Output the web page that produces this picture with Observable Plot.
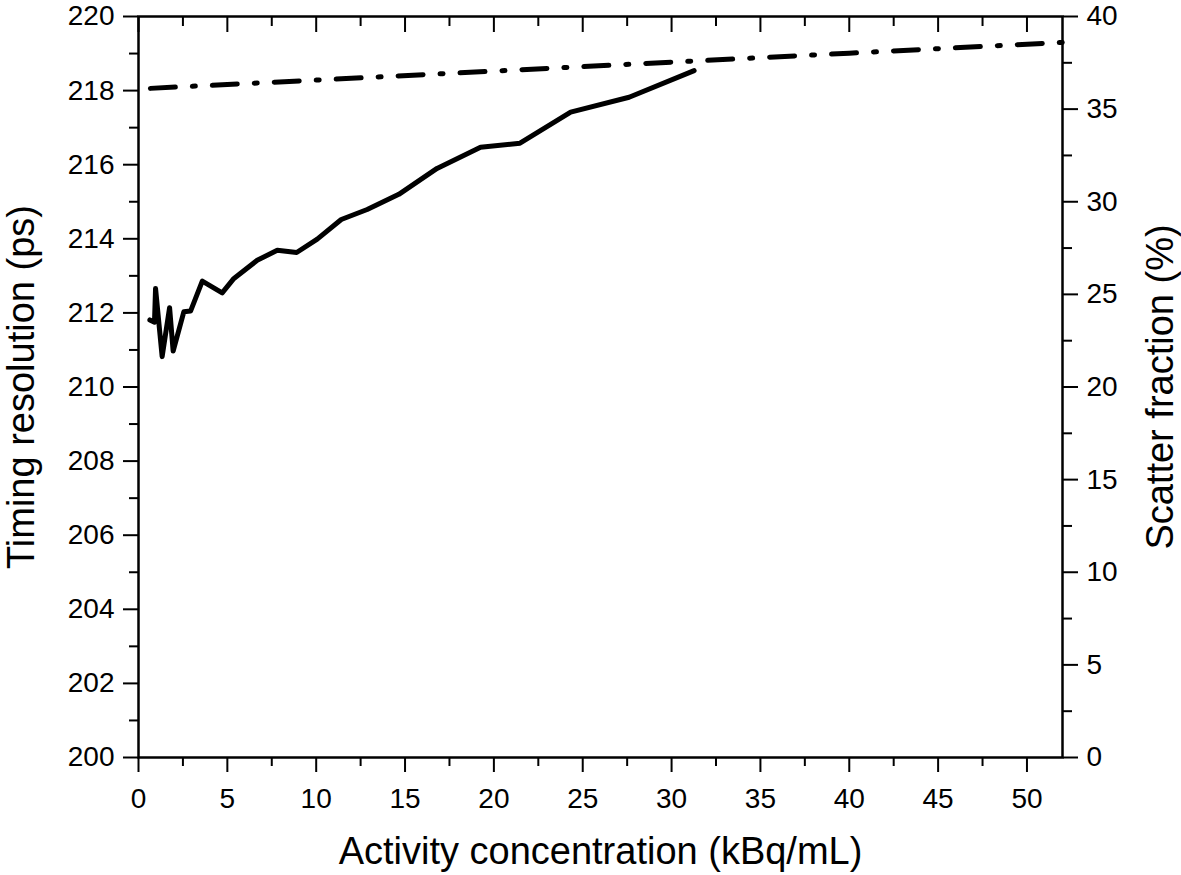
<!DOCTYPE html>
<html>
<head>
<meta charset="utf-8">
<script src="https://cdn.jsdelivr.net/npm/d3@7"></script>
<script src="https://cdn.jsdelivr.net/npm/@observablehq/plot@0.6"></script>
<style>
  html, body { margin: 0; padding: 0; background: #fff; }
  #chart svg { display: block; }
</style>
</head>
<body>
<div id="chart"></div>
<script>
// Timing resolution (ps) vs activity concentration (kBq/mL)
const timingX = [0.64, 0.9, 0.96, 1.33, 1.75, 1.95, 2.55, 2.93, 3.59, 4.71, 5.37, 6.68, 7.81, 8.9, 10.06, 11.41, 12.87, 14.65, 16.8, 19.25, 21.47, 24.32, 27.61, 31.27];
const timingPs = [211.81, 211.75, 212.66, 210.82, 212.14, 210.97, 212.03, 212.05, 212.86, 212.54, 212.93, 213.42, 213.69, 213.63, 213.99, 214.52, 214.79, 215.2, 215.9, 216.47, 216.58, 217.42, 217.82, 218.54];

// Scatter fraction (%) vs activity concentration
const scatterX = [0.67, 10, 20, 31.3, 40, 52];
const scatterPct = [36.12, 36.57, 37.05, 37.6, 38.02, 38.6];

// Ticks
const xMajor = [0, 5, 10, 15, 20, 25, 30, 35, 40, 45, 50];
const xMinor = [2.5, 7.5, 12.5, 17.5, 22.5, 27.5, 32.5, 37.5, 42.5, 47.5];
const yMajor = [200, 202, 204, 206, 208, 210, 212, 214, 216, 218, 220];
const yMinor = [201, 203, 205, 207, 209, 211, 213, 215, 217, 219];
const pctMajor = [0, 5, 10, 15, 20, 25, 30, 35, 40];
const pctMinor = [2.5, 7.5, 12.5, 17.5, 22.5, 27.5, 32.5, 37.5];

// map percent (0–40) onto the ps axis (200–220)
const pctToPs = p => 200 + p / 2;
const psToPct = v => Math.round((v - 200) * 2);
const blank = () => "";

const timing = timingX.map((x, i) => ({x, y: timingPs[i]}));
const scatter = scatterX.map((x, i) => ({x, y: pctToPs(scatterPct[i])}));

const font = "Arial, 'Liberation Sans', Helvetica, sans-serif";
const tickFont = 28;
const titleFont = 38;

const chart = Plot.plot({
  width: 1181,
  height: 875,
  marginLeft: 138,
  marginRight: 119,
  marginTop: 16,
  marginBottom: 118,
  style: {fontFamily: font, color: "#000", background: "#fff"},
  x: {domain: [0, 52]},
  y: {domain: [200, 220]},
  marks: [
    // bottom axis
    Plot.axisX({anchor: "bottom", ticks: xMajor, tickSize: 15, tickPadding: 16, tickFormat: d => d, label: null, strokeWidth: 2, fontSize: tickFont}),
    Plot.axisX({anchor: "bottom", ticks: xMinor, tickSize: 9, tickFormat: blank, label: null, strokeWidth: 2}),
    Plot.axisX({anchor: "bottom", ticks: [], label: "Activity concentration (kBq/mL)", labelAnchor: "center", labelArrow: "none", labelOffset: 106, fontSize: titleFont}),
    // top axis (inward ticks)
    Plot.axisX({anchor: "top", ticks: xMajor, tickSize: -15, tickFormat: blank, label: null, strokeWidth: 2}),
    Plot.axisX({anchor: "top", ticks: xMinor, tickSize: -9, tickFormat: blank, label: null, strokeWidth: 2}),
    // left axis
    Plot.axisY({anchor: "left", ticks: yMajor, tickSize: 15, tickPadding: 9, tickFormat: d => d, label: null, strokeWidth: 2, fontSize: tickFont}),
    Plot.axisY({anchor: "left", ticks: yMinor, tickSize: 9, tickFormat: blank, label: null, strokeWidth: 2}),
    Plot.axisY({anchor: "left", ticks: [], label: "Timing resolution (ps)", labelAnchor: "center", labelArrow: "none", labelOffset: 131, fontSize: titleFont}),
    // right axis (scatter fraction)
    Plot.axisY({anchor: "right", ticks: pctMajor.map(pctToPs), tickSize: 15, tickPadding: 9, tickFormat: psToPct, label: null, strokeWidth: 2, fontSize: tickFont}),
    Plot.axisY({anchor: "right", ticks: pctMinor.map(pctToPs), tickSize: 9, tickFormat: blank, label: null, strokeWidth: 2}),
    Plot.axisY({anchor: "right", ticks: [], label: "Scatter fraction (%)", labelAnchor: "center", labelArrow: "none", labelOffset: 110, fontSize: titleFont}),
    Plot.frame({stroke: "#000", strokeWidth: 2.5}),
    // data
    Plot.line(scatter, {x: "x", y: "y", stroke: "#000", strokeWidth: 5, strokeDasharray: "25,17,3,17", strokeLinecap: "round"}),
    Plot.line(timing, {x: "x", y: "y", stroke: "#000", strokeWidth: 5, strokeLinejoin: "round"})
  ]
});
document.getElementById("chart").appendChild(chart);
</script>
</body>
</html>
